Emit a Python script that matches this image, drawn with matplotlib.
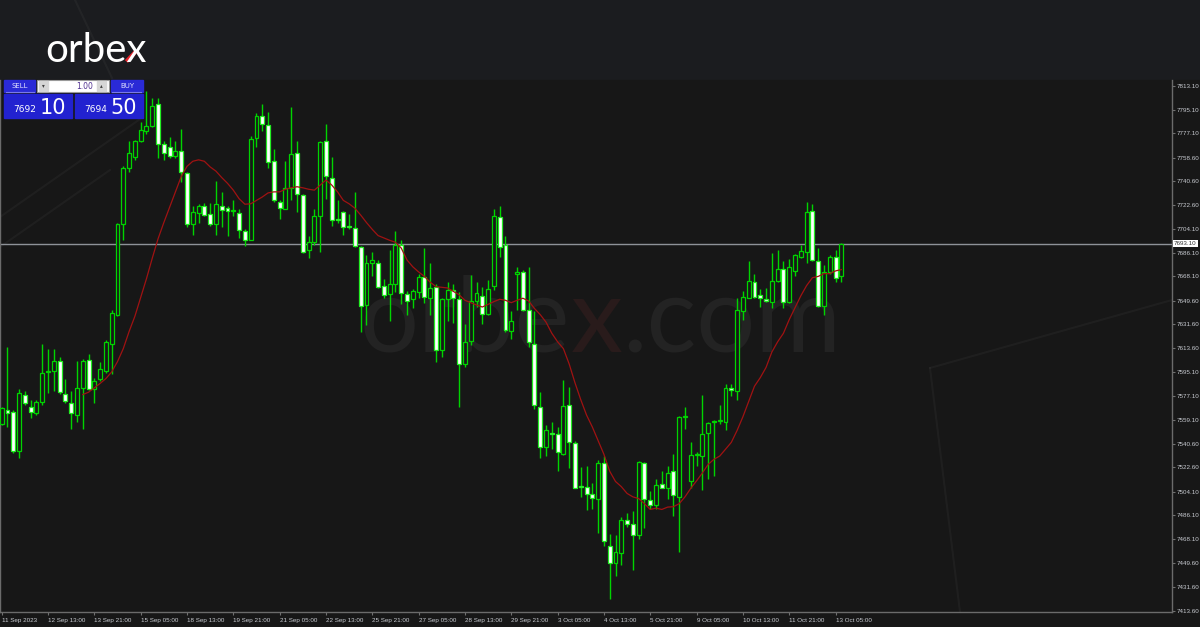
import numpy as np
import matplotlib
matplotlib.use("Agg")
import matplotlib.pyplot as plt
from matplotlib.patches import Rectangle

# H4 candles, 11 Sep - 13 Oct 2023
opens = [7556.0, 7566.4, 7565.1, 7535.2, 7578.1, 7569.0, 7564.3, 7572.1, 7595.0, 7596.2,
         7604.0, 7578.8, 7571.6, 7562.5, 7583.3, 7604.8, 7582.0, 7589.7, 7596.2, 7617.0,
         7639.0, 7707.8, 7750.6, 7758.9, 7771.4, 7779.2, 7782.5, 7799.4, 7769.3, 7766.7,
         7759.7, 7763.6, 7746.5, 7707.8, 7716.4, 7722.1, 7715.6, 7707.8, 7722.1, 7720.0,
         7718.2, 7716.1, 7702.6, 7696.1, 7773.5, 7790.3, 7783.1, 7755.8, 7724.7, 7719.5,
         7735.1, 7762.3, 7729.9, 7688.4, 7694.1, 7714.3, 7771.4, 7743.4, 7711.7, 7716.9,
         7705.9, 7704.9, 7690.4, 7646.3, 7678.0, 7678.5, 7661.1, 7654.6, 7662.4, 7692.2,
         7654.6, 7650.7, 7655.9, 7667.6, 7652.0, 7659.8, 7612.3, 7650.7, 7658.0, 7651.2,
         7601.4, 7618.8, 7649.4, 7653.3, 7639.6, 7661.1, 7713.5, 7692.2, 7626.6, 7669.7,
         7671.5, 7642.9, 7617.0, 7568.5, 7537.8, 7548.4, 7547.7, 7532.6, 7569.8, 7541.2,
         7508.2, 7508.0, 7502.0, 7498.9, 7526.2, 7463.1, 7450.1, 7457.4, 7482.8, 7479.4,
         7470.9, 7526.2, 7497.6, 7493.7, 7509.8, 7506.7, 7519.7, 7500.2, 7561.0, 7511.9,
         7531.9, 7531.3, 7548.7, 7557.1, 7558.0, 7557.3, 7583.3, 7580.7, 7641.6, 7652.0,
         7663.7, 7654.1, 7651.0, 7648.9, 7664.5, 7674.1, 7648.9, 7672.3, 7683.2, 7687.0,
         7718.2, 7680.1, 7645.5, 7671.5, 7682.6, 7668.1]
highs = [7569.0, 7614.4, 7566.0, 7582.0, 7580.7, 7574.2, 7574.2, 7617.0, 7613.1, 7613.1,
         7606.6, 7589.7, 7580.7, 7604.0, 7605.3, 7609.2, 7591.0, 7602.7, 7619.6, 7642.9,
         7709.1, 7751.9, 7771.4, 7771.9, 7785.7, 7809.0, 7803.8, 7803.8, 7771.4, 7774.0,
         7771.4, 7780.5, 7748.0, 7721.6, 7723.4, 7724.2, 7724.2, 7740.8, 7732.5, 7722.1,
         7726.0, 7719.5, 7703.9, 7775.3, 7792.2, 7799.2, 7793.4, 7764.9, 7726.0, 7755.8,
         7796.8, 7771.4, 7731.2, 7698.7, 7719.5, 7771.4, 7784.4, 7758.9, 7726.0, 7718.2,
         7715.6, 7732.5, 7690.9, 7684.5, 7687.0, 7680.6, 7666.3, 7688.4, 7702.6, 7696.1,
         7657.2, 7658.5, 7670.2, 7689.7, 7678.0, 7662.4, 7652.0, 7663.7, 7662.4, 7655.9,
         7631.8, 7668.9, 7663.7, 7660.3, 7665.0, 7719.5, 7722.1, 7698.7, 7641.6, 7675.4,
         7672.8, 7675.4, 7641.6, 7579.9, 7554.7, 7557.3, 7553.4, 7589.2, 7584.0, 7542.5,
         7522.8, 7523.6, 7510.6, 7528.0, 7531.3, 7471.7, 7470.9, 7484.6, 7488.0, 7489.8,
         7527.5, 7526.9, 7504.6, 7514.0, 7519.7, 7523.6, 7533.2, 7561.7, 7569.0, 7541.7,
         7534.7, 7578.1, 7557.3, 7559.1, 7570.3, 7585.8, 7585.8, 7651.5, 7657.2, 7680.1,
         7669.7, 7658.5, 7659.3, 7685.8, 7688.4, 7680.1, 7681.1, 7685.2, 7692.2, 7724.7,
         7723.4, 7689.7, 7676.7, 7684.5, 7688.4, 7693.5]
lows = [7555.0, 7553.4, 7533.9, 7530.0, 7570.3, 7559.9, 7562.5, 7570.3, 7579.4, 7580.7,
        7578.8, 7571.6, 7552.1, 7557.3, 7552.1, 7581.4, 7571.6, 7588.4, 7594.9, 7593.6,
        7637.7, 7696.1, 7748.0, 7757.1, 7770.1, 7776.6, 7781.8, 7758.4, 7757.1, 7758.4,
        7758.4, 7740.3, 7706.0, 7700.0, 7709.1, 7714.3, 7706.5, 7700.0, 7706.0, 7698.7,
        7714.3, 7697.4, 7691.5, 7695.6, 7766.7, 7779.2, 7750.6, 7724.7, 7711.7, 7719.5,
        7726.0, 7716.9, 7686.3, 7681.9, 7692.2, 7687.0, 7727.3, 7706.5, 7709.1, 7700.0,
        7703.9, 7690.2, 7626.1, 7631.3, 7668.1, 7659.3, 7652.0, 7634.4, 7655.9, 7646.8,
        7639.0, 7644.2, 7652.0, 7648.1, 7639.0, 7602.7, 7606.6, 7633.8, 7632.5, 7568.5,
        7598.8, 7615.7, 7644.8, 7631.8, 7639.0, 7658.0, 7683.2, 7626.1, 7620.4, 7642.2,
        7641.6, 7614.4, 7566.9, 7529.5, 7531.3, 7536.5, 7519.7, 7532.1, 7522.3, 7506.7,
        7500.2, 7490.3, 7490.6, 7473.0, 7462.6, 7422.4, 7439.7, 7448.3, 7476.9, 7444.4,
        7467.8, 7476.1, 7491.1, 7490.6, 7506.7, 7498.4, 7485.9, 7457.9, 7552.1, 7507.2,
        7523.6, 7505.4, 7514.0, 7515.8, 7555.5, 7551.3, 7576.8, 7573.7, 7635.2, 7652.0,
        7652.0, 7644.8, 7648.9, 7643.7, 7663.7, 7643.7, 7648.1, 7668.1, 7681.9, 7678.0,
        7680.1, 7644.8, 7638.5, 7670.2, 7663.7, 7663.7]
closes = [7567.7, 7564.3, 7535.2, 7579.4, 7571.6, 7565.1, 7572.1, 7594.4, 7595.8, 7604.0,
          7579.9, 7572.9, 7563.8, 7583.3, 7604.0, 7582.0, 7588.4, 7597.5, 7617.8, 7640.3,
          7707.8, 7750.6, 7762.3, 7771.4, 7779.7, 7782.5, 7797.9, 7768.8, 7762.3, 7759.7,
          7763.6, 7747.5, 7707.8, 7716.9, 7721.6, 7714.8, 7707.8, 7723.4, 7719.0, 7718.2,
          7718.6, 7703.1, 7695.6, 7772.7, 7790.3, 7784.4, 7755.0, 7726.0, 7720.3, 7735.1,
          7761.5, 7731.2, 7687.0, 7694.3, 7714.3, 7770.1, 7744.9, 7711.2, 7711.2, 7705.7,
          7705.5, 7690.9, 7645.5, 7678.0, 7680.6, 7660.3, 7653.8, 7662.4, 7692.2, 7655.1,
          7649.4, 7656.7, 7667.6, 7652.5, 7659.3, 7611.8, 7650.7, 7658.0, 7651.5, 7601.4,
          7618.3, 7649.4, 7655.1, 7639.6, 7658.5, 7713.8, 7690.4, 7627.4, 7633.8, 7671.5,
          7642.9, 7618.3, 7570.3, 7537.8, 7551.3, 7548.0, 7534.7, 7569.5, 7541.7, 7507.2,
          7507.8, 7502.0, 7499.4, 7526.2, 7466.5, 7450.1, 7457.9, 7482.8, 7479.4, 7470.9,
          7526.9, 7498.4, 7494.2, 7509.3, 7507.2, 7518.4, 7501.5, 7561.2, 7561.4, 7532.1,
          7532.1, 7548.2, 7556.5, 7557.5, 7558.2, 7583.3, 7581.4, 7642.2, 7652.5, 7664.5,
          7652.8, 7652.0, 7649.4, 7664.5, 7673.6, 7648.6, 7675.4, 7684.5, 7687.8, 7717.4,
          7680.6, 7645.5, 7671.5, 7683.2, 7667.1, 7693.1]

# moving average line, drawn from the 15th bar on
ma_first = 14
ma_values = [7578.1, 7579.9, 7583.3, 7586.6, 7590.3, 7595.4, 7603.2, 7613.1, 7626.1, 7637.7,
             7652.0, 7666.3, 7681.9, 7696.7, 7709.1, 7720.8, 7732.5, 7744.1, 7751.9, 7755.8,
             7756.9, 7755.8, 7751.5, 7748.3, 7743.4, 7739.0, 7733.8, 7727.3, 7723.1, 7723.4,
             7726.0, 7728.6, 7731.7, 7732.5, 7732.5, 7734.5, 7735.6, 7736.4, 7735.6, 7734.5,
             7733.8, 7737.7, 7741.5, 7737.7, 7732.5, 7726.0, 7723.4, 7720.0, 7714.8, 7709.1,
             7703.9, 7699.2, 7697.4, 7695.6, 7694.1, 7689.7, 7680.6, 7675.4, 7671.5, 7668.1,
             7663.7, 7660.3, 7659.8, 7659.3, 7656.7, 7654.1, 7649.9, 7648.1, 7646.3, 7644.8,
             7646.8, 7648.9, 7650.7, 7649.9, 7648.1, 7649.9, 7651.5, 7649.4, 7643.7, 7639.0,
             7633.3, 7624.8, 7618.3, 7613.1, 7601.4, 7587.1, 7574.2, 7562.5, 7553.4, 7543.0,
             7532.6, 7519.7, 7511.9, 7508.0, 7502.8, 7500.2, 7498.9, 7495.0, 7490.6, 7491.6,
             7490.6, 7492.4, 7492.7, 7495.0, 7500.2, 7506.7, 7512.4, 7518.4, 7524.9, 7528.8,
             7531.3, 7536.5, 7541.7, 7550.8, 7561.2, 7572.9, 7584.5, 7591.0, 7598.8, 7610.5,
             7618.3, 7624.8, 7635.2, 7644.2, 7653.3, 7661.1, 7667.1, 7668.1, 7670.2, 7670.2,
             7672.3, 7673.3]

last_price = 7693.1
price_ticks = [7813.10, 7795.10, 7777.10, 7758.60, 7740.60, 7722.60, 7704.10, 7686.10,
               7668.10, 7649.60, 7631.60, 7613.60, 7595.10, 7577.10, 7559.10, 7540.60,
               7522.60, 7504.10, 7486.10, 7468.10, 7449.60, 7431.60, 7413.60]
time_labels = ["11 Sep 2023", "12 Sep 13:00", "13 Sep 21:00", "15 Sep 05:00", "18 Sep 13:00",
               "19 Sep 21:00", "21 Sep 05:00", "22 Sep 13:00", "25 Sep 21:00", "27 Sep 05:00",
               "28 Sep 13:00", "29 Sep 21:00", "3 Oct 05:00", "4 Oct 13:00", "5 Oct 21:00",
               "9 Oct 05:00", "10 Oct 13:00", "11 Oct 21:00", "13 Oct 05:00"]

W, H = 1200, 627
HEADER = "#1b1c1f"
CHART_BG = "#171717"
GREEN = "#00d400"
TICK_FONT = ["Liberation Sans", "DejaVu Sans"]

fig = plt.figure(figsize=(W / 100, H / 100), dpi=100, facecolor=HEADER)
renderer = fig.canvas.get_renderer()

# background layer (pixel coords)
bg = fig.add_axes([0, 0, 1, 1], zorder=0)
bg.set_xlim(0, W)
bg.set_ylim(H, 0)
bg.axis("off")
bg.add_patch(Rectangle((0, 80), W, H - 80, color=CHART_BG))
# faint diagonal decorations
for (x0, y0, x1, y1) in [(75, 0, 112, 78), (0, 217, 143, 117), (0, 247, 110, 170),
                         (930, 368, 1172, 300), (930, 368, 960, 612)]:
    bg.plot([x0, x1], [y0, y1], color="#ffffff", alpha=0.035, lw=1.5)

# watermark
wx = 360
for part, col in [("orbe", "#232323"), ("x", "#291b1b"), (".com", "#232323")]:
    t = bg.text(wx, 352, part, fontsize=75, family="Lato", color=col,
                va="baseline", ha="left")
    wx += t.get_window_extent(renderer).width

# chart
ax = fig.add_axes([0, (H - 612) / H, 1172 / W, (612 - 80) / H], zorder=1)
ax.set_facecolor("none")
n = len(opens)
x = np.arange(n)
o = np.array(opens)
c = np.array(closes)
ax.vlines(x, lows, highs, color=GREEN, lw=1, zorder=2)
up = c >= o
body_lo = np.minimum(o, c)
body_h = np.maximum(np.abs(c - o), 0.7)
ax.bar(x[up], body_h[up], bottom=body_lo[up], width=0.68, facecolor=CHART_BG,
       edgecolor=GREEN, linewidth=0.9, zorder=3)
ax.bar(x[~up], body_h[~up], bottom=body_lo[~up], width=0.68, facecolor="#ffffff",
       edgecolor="#22ee22", linewidth=0.9, zorder=3)
ax.plot(x[ma_first:ma_first + len(ma_values)], ma_values, color="#a01212", lw=0.9, zorder=4)
ax.axhline(last_price, color="#8e9298", lw=1, zorder=1)

ax.set_xlim(-0.29, 202.1)
ax.set_ylim(7412.5, 7817.7)

ax.yaxis.tick_right()
ax.set_yticks(price_ticks)
ax.set_yticklabels([f"{v:.2f}" for v in price_ticks], family=TICK_FONT)
ax.tick_params(axis="y", length=2.5, width=0.8, color="#707070", labelsize=4.5,
               labelcolor="#c9ccd2", pad=0.8)
ax.set_xticks(np.arange(len(time_labels)) * 8)
ax.set_xticklabels(time_labels, family=TICK_FONT)
for lbl in ax.get_xticklabels():
    lbl.set_horizontalalignment("left")
ax.tick_params(axis="x", length=2.5, width=0.8, color="#707070", labelsize=4.5,
               labelcolor="#c9ccd2", pad=1.5)
for side in ["left", "bottom", "right"]:
    ax.spines[side].set_color("#6b6b6b")
    ax.spines[side].set_linewidth(1)
ax.spines["top"].set_visible(False)
ax.text(1.0015, last_price, f"{last_price:.2f}", transform=ax.get_yaxis_transform(),
        fontsize=4.5, family=TICK_FONT, color="#303030", va="center", ha="left", zorder=6,
        bbox=dict(boxstyle="square,pad=0.2", facecolor="#ffffff", edgecolor="none"))

# overlay: logo and one-click trading panel
ov = fig.add_axes([0, 0, 1, 1], zorder=2)
ov.set_xlim(0, W)
ov.set_ylim(H, 0)
ov.axis("off")
ov.patch.set_alpha(0)

t = ov.text(45, 62, "orbex", fontsize=29, family="Lato", color="#ffffff",
            va="baseline", ha="left")
lx = 45 + t.get_window_extent(renderer).width
ov.plot([lx - 20, lx - 11], [61.5, 52], color="#e8232b", lw=3.0, solid_capstyle="butt")

BLUE = "#2a2ad6"
ov.add_patch(Rectangle((4, 80), 31, 12, color=BLUE))
ov.add_patch(Rectangle((111, 80), 32, 12, color=BLUE))
ov.add_patch(Rectangle((37, 80), 72, 12, facecolor="#ffffff", edgecolor="#9a9a9a", lw=0.8))
ov.add_patch(Rectangle((39, 81), 9, 10, color="#d6d6d6"))
ov.add_patch(Rectangle((97, 81), 9, 10, color="#d6d6d6"))
ov.text(19.5, 86.5, "SELL", fontsize=5, color="#e0e0ff", ha="center", va="center")
ov.text(127, 86.5, "BUY", fontsize=5, color="#e0e0ff", ha="center", va="center")
ov.text(43.5, 86, "\u25be", fontsize=4, color="#404040", ha="center", va="center")
ov.text(101.5, 86, "\u25b4", fontsize=4, color="#404040", ha="center", va="center")
ov.text(93, 86.5, "1.00", fontsize=5.5, color="#503090", ha="right", va="center")
ov.plot([6, 34], [91.5, 91.5], color="#7a7ae8", lw=0.8)
ov.plot([112, 141], [91.5, 91.5], color="#7a7ae8", lw=0.8)
ov.add_patch(Rectangle((4, 94), 68, 24, color="#2222d0"))
ov.add_patch(Rectangle((75, 94), 68, 24, color="#2222d0"))
ov.text(25, 112, "7692", fontsize=6.5, color="#ffffff", ha="center", va="baseline")
ov.text(40, 114, "10", fontsize=15, color="#ffffff", ha="left", va="baseline")
ov.text(96, 112, "7694", fontsize=6.5, color="#ffffff", ha="center", va="baseline")
ov.text(110, 114, "50", fontsize=15, color="#ffffff", ha="left", va="baseline")

fig.savefig("out.png", dpi=100, facecolor=fig.get_facecolor())
